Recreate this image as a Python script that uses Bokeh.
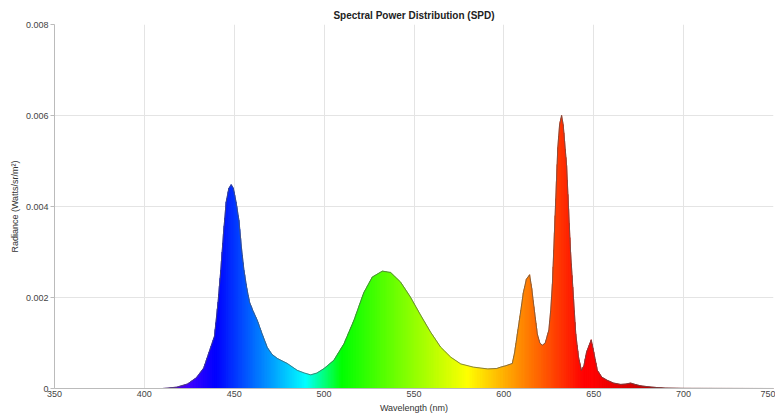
from bokeh.plotting import figure
from bokeh.embed import file_html
from bokeh.resources import INLINE
from bokeh.models import FixedTicker, CustomJSTickFormatter

# ---- data ----
wavelength = [400, 410, 413, 418, 424, 429, 433, 436, 439, 441, 442.5, 444, 445.5, 447,
              448.3, 449.5, 451, 452.6, 454, 455.4, 457, 458.5, 460.5, 462.8, 465.5, 468.4,
              471, 474, 479.5, 485, 489, 492.5, 496, 500, 505.4, 511, 516.6, 522, 526.8,
              532.4, 537, 542.5, 548, 553.7, 559.2, 564.8, 570.4, 576, 583, 591, 596, 598.2,
              601, 604.7, 606, 607.5, 609, 610.8, 612.5, 614.3, 615.5, 616.7, 618.6, 620,
              621.4, 623, 625, 626, 627, 628.5, 630, 631, 632.1, 633, 634.9, 637.1, 640,
              641.5, 643.1, 644.5, 646, 648.6, 650, 652, 654.5, 657.5, 661, 665, 668, 670.5,
              673, 676, 680, 685.4, 690, 700, 750]
radiance = [0, 0, 0.00001, 0.00003, 0.0001, 0.00024, 0.00045, 0.0008, 0.00115, 0.0019,
            0.0026, 0.0034, 0.0041, 0.0044, 0.00448, 0.0044, 0.0041, 0.0037, 0.0031, 0.0026,
            0.0022, 0.0019, 0.0017, 0.0015, 0.0012, 0.0009, 0.00075, 0.00066, 0.00055,
            0.0004, 0.00034, 0.0003, 0.00034, 0.00044, 0.00062, 0.00098, 0.0015, 0.0021,
            0.00245, 0.00258, 0.00255, 0.00234, 0.00201, 0.00161, 0.00124, 0.00091, 0.00069,
            0.00054, 0.00047, 0.00043, 0.00044, 0.00047, 0.0005, 0.00055, 0.0008, 0.0012,
            0.0016, 0.0021, 0.0024, 0.0025, 0.0022, 0.0018, 0.0012, 0.001, 0.00095, 0.001,
            0.00128, 0.0017, 0.0023, 0.0038, 0.0053, 0.0058, 0.006, 0.0058, 0.0049, 0.003,
            0.0012, 0.0007, 0.0004, 0.0005, 0.0008, 0.00107, 0.0008, 0.0004, 0.00025,
            0.00018, 0.00012, 0.00009, 0.0001, 0.00012, 0.00009, 0.00006, 0.00004, 0.00002,
            0.00001, 0.000003, 0]

x_ticks = [350, 400, 450, 500, 550, 600, 650, 700, 750]
y_ticks = [0, 0.002, 0.004, 0.006, 0.008]


def wl_color(w):
    if w < 440:
        r, g, b = (440 - w) / 60.0, 0.0, 1.0
    elif w < 490:
        r, g, b = 0.0, (w - 440) / 50.0, 1.0
    elif w < 510:
        r, g, b = 0.0, 1.0, (510 - w) / 20.0
    elif w < 580:
        r, g, b = (w - 510) / 70.0, 1.0, 0.0
    elif w < 645:
        r, g, b = 1.0, (645 - w) / 65.0, 0.0
    else:
        r, g, b = 1.0, 0.0, 0.0
    f = 1.0
    if w < 425:
        f = max(0.3, 0.55 + 0.45 * (w - 405) / 20.0)
    elif w > 650:
        f = max(0.55, 1.0 - 0.4 * (w - 650) / 50.0)
    r, g, b = [min(1.0, max(0.0, c)) * f for c in (r, g, b)]
    return "#%02x%02x%02x" % (int(r * 255), int(g * 255), int(b * 255))


# split each straight segment of the curve into thin strips for the colour gradient
xs, ys, cols = [], [], []
for i in range(len(wavelength) - 1):
    x0, x1 = wavelength[i], wavelength[i + 1]
    y0, y1 = radiance[i], radiance[i + 1]
    if y0 == 0 and y1 == 0:
        continue
    n = max(1, int(round((x1 - x0) / 0.4)))
    for k in range(n):
        a, b = x0 + (x1 - x0) * k / n, x0 + (x1 - x0) * (k + 1) / n
        ya = y0 + (y1 - y0) * k / n
        yb = y0 + (y1 - y0) * (k + 1) / n
        xs.append([a, b, b, a])
        ys.append([0, 0, yb, ya])
        cols.append(wl_color((a + b) / 2))

p = figure(frame_width=719, frame_height=364, x_range=(350, 750), y_range=(0, 0.008),
           output_backend="svg", toolbar_location=None,
           min_border_left=54, min_border_right=2, min_border_top=24, min_border_bottom=26)

p.patches(xs, ys, fill_color=cols, line_color=cols, line_width=0.8)
p.line(wavelength, radiance, line_color="#555555", line_width=0.7)

p.title.text = "Spectral Power Distribution (SPD)"
p.title.align = "center"
p.title.text_font = "Liberation Sans"
p.title.text_font_size = "10px"
p.title.text_font_style = "bold"
p.title.text_color = "#222222"
p.title.standoff = 8

p.outline_line_color = None
p.xgrid.ticker = FixedTicker(ticks=x_ticks)
p.ygrid.ticker = FixedTicker(ticks=y_ticks)
p.grid.grid_line_color = "#e4e4e4"
p.grid.grid_line_width = 1

p.xaxis.ticker = FixedTicker(ticks=x_ticks)
p.yaxis.ticker = FixedTicker(ticks=y_ticks)
p.yaxis.formatter = CustomJSTickFormatter(code="return tick == 0 ? '0' : tick.toFixed(3);")
p.xaxis.axis_label = "Wavelength (nm)"
p.yaxis.axis_label = "Radiance (Watts/sr/m²)"
for ax in (p.xaxis, p.yaxis):
    ax.axis_line_color = "#bbbbbb"
    ax.major_tick_line_color = "#bbbbbb"
    ax.minor_tick_line_color = None
    ax.major_tick_in = 0
    ax.major_label_text_font = "Liberation Sans"
    ax.major_label_text_font_size = "9px"
    ax.major_label_text_color = "#444444"
    ax.axis_label_text_font = "Liberation Sans"
    ax.axis_label_text_font_size = "9px"
    ax.axis_label_text_font_style = "normal"
    ax.axis_label_text_color = "#333333"
    ax.major_label_standoff = 2
    ax.axis_label_standoff = 3
p.xaxis.major_tick_out = 0
p.yaxis.major_tick_out = 4

open("out.html", "w").write(file_html(p, INLINE))
